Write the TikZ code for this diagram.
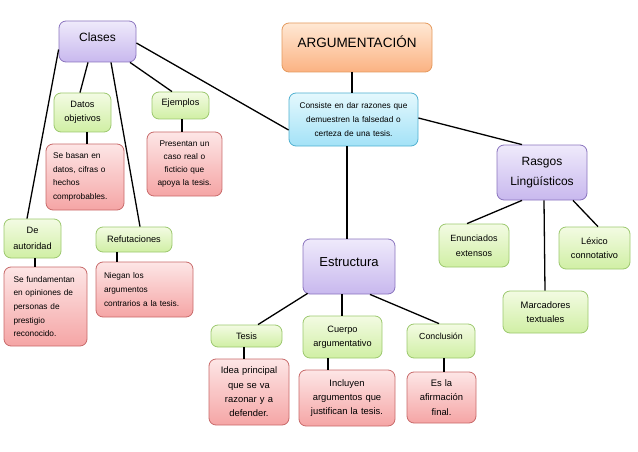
\documentclass[tikz,border=0pt]{standalone}
\usepackage{fontspec}
\setmainfont{Liberation Sans}
\definecolor{purpT}{HTML}{EFEAFB}
\definecolor{purpB}{HTML}{C8B8EE}
\definecolor{purpD}{HTML}{8A74BE}
\definecolor{oranT}{HTML}{FFE8D4}
\definecolor{oranB}{HTML}{FBB282}
\definecolor{oranD}{HTML}{E49A5E}
\definecolor{cyanT}{HTML}{E4F8FD}
\definecolor{cyanB}{HTML}{A3E2F7}
\definecolor{cyanD}{HTML}{4FB0D0}
\definecolor{grnT}{HTML}{F3FBE3}
\definecolor{grnB}{HTML}{D0EFA4}
\definecolor{grnD}{HTML}{9CC86E}
\definecolor{redT}{HTML}{FDE6E6}
\definecolor{redB}{HTML}{F5A5A5}
\definecolor{redD}{HTML}{C86A6A}
\begin{document}
\begin{tikzpicture}[x=1pt,y=-1pt,
  box/.style={draw, rounded corners=7pt, line width=0.8pt, inner sep=0pt, align=center},
  purp/.style={box, draw=purpD, top color=purpT, bottom color=purpB},
  oran/.style={box, draw=oranD, top color=oranT, bottom color=oranB},
  cyan/.style={box, draw=cyanD, top color=cyanT, bottom color=cyanB},
  grn/.style={box, draw=grnD, top color=grnT, bottom color=grnB},
  red/.style={box, draw=redD, top color=redT, bottom color=redB},
  wh/.style 2 args={minimum width=#1, minimum height=#2},
  big/.style={font=\fontsize{12}{20}\selectfont},
  mid/.style={font=\fontsize{9.2}{14.5}\selectfont},
  midr/.style={font=\fontsize{9.4}{14.4}\selectfont},
  sml/.style={font=\fontsize{8.3}{13.7}\selectfont},
  con/.style={line width=1.3pt, black}]
\useasboundingbox (0,0) rectangle (638,452);

% nodes
\node[purp, wh={77}{41}, big, text height=9pt, text depth=9pt] (clases) at (97.5,41.5) {Clases};
\node[oran, wh={150}{49}, font=\fontsize{13.5}{16}\selectfont, text height=10pt, text depth=9pt] (arg) at (357,47.5) {ARGUMENTACIÓN};
\node[cyan, wh={129}{53}, sml, text width=125pt] (cons) at (353.5,119.5) {Consiste en dar razones que\\demuestren la falsedad o\\certeza de una tesis.};
\node[purp, wh={90}{55}, big, text width=86pt] (rasgos) at (542,172.5) {Rasgos\\Lingüísticos};

\node[grn, wh={57}{39}, mid, text width=55pt] (datos) at (82.5,112.5) {Datos\\objetivos};
\node[red, wh={78}{66}, sml, text width=64pt, align=left] (sebasan) at (85,177) {Se basan en\\datos, cifras o\\hechos\\comprobables.};
\node[grn, wh={57}{27}, mid, text height=6.5pt, text depth=6.5pt] (ejemplos) at (180.5,105.5) {Ejemplos};
\node[red, wh={75}{64}, font=\fontsize{8.3}{12.8}\selectfont, text width=72pt] (presentan) at (184.5,164) {Presentan un\\caso real o\\ficticio que\\apoya la tesis.};
\node[grn, wh={57}{39}, font=\fontsize{9.2}{16}\selectfont, text width=55pt] (deaut) at (32.5,238.5) {De\\autoridad};
\node[red, wh={83}{79}, sml, text width=64pt, align=left] (sefund) at (45.5,306.5) {Se fundamentan\\en opiniones de\\personas de\\prestigio\\reconocido.};
\node[grn, wh={76}{25}, mid] (refut) at (134,239.5) {Refutaciones};
\node[red, wh={97}{55}, sml, text width=81pt, align=left] (niegan) at (144.5,289.5) {Niegan los\\argumentos\\contrarios a la tesis.};

\node[purp, wh={92}{55}, font=\fontsize{13}{16}\selectfont, text height=9.5pt, text depth=9.5pt] (estr) at (349,266.5) {Estructura};
\node[grn, wh={71}{22}, mid] (tesis) at (246.5,336) {Tesis};
\node[red, wh={80}{66}, midr, text width=78pt] (idea) at (249,392) {Idea principal\\que se va\\razonar y a\\defender.};
\node[grn, wh={79}{42}, mid, text width=77pt] (cuerpo) at (342.5,337) {Cuerpo\\argumentativo};
\node[red, wh={96}{56}, midr, text width=94pt] (incl) at (347,398) {Incluyen\\argumentos que\\justifican la tesis.};
\node[grn, wh={68}{34}, font=\fontsize{8.8}{14}\selectfont, text height=6pt, text depth=9.5pt] (concl) at (441,341) {Conclusión};
\node[red, wh={69}{51}, midr, text width=67pt] (esla) at (441.5,397.5) {Es la\\afirmación\\final.};

\node[grn, wh={70}{43}, font=\fontsize{9}{15}\selectfont, text width=68pt] (enun) at (474,245.5) {Enunciados\\extensos};
\node[grn, wh={71}{42}, mid, text width=69pt] (lexico) at (594.5,248) {Léxico\\connotativo};
\node[grn, wh={85}{42}, font=\fontsize{9.4}{14}\selectfont, text width=83pt] (marc) at (545.5,312) {Marcadores\\textuales};

% connectors
\draw[con] ([xshift=-9.5pt]clases.south) -- ([xshift=-2.5pt]datos.north);
\draw[con] ([xshift=13.5pt]clases.south) -- ([xshift=6pt]refut.north);
\draw[con] ([xshift=32.5pt]clases.south) -- ([xshift=-8.5pt]ejemplos.north);
\draw[con] ([yshift=-1.5pt]clases.east) -- ([yshift=-10.5pt]cons.west);
\draw[con] ([yshift=-8pt]clases.west) -- ([xshift=-5.5pt]deaut.north);
\draw[con] ([xshift=4.5pt]datos.south) -- ([xshift=2pt]sebasan.north);
\draw[con] ([xshift=1.5pt]ejemplos.south) -- ([xshift=-2.5pt]presentan.north);
\draw[con] ([xshift=2.5pt]deaut.south) -- ([xshift=-10.5pt]sefund.north);
\draw[con] ([xshift=-17pt]refut.south) -- ([xshift=-27.5pt]niegan.north);
\draw[con] ([xshift=-5pt]arg.south) -- ([xshift=-1.5pt]cons.north);
\draw[con] ([xshift=-6.5pt]cons.south) -- ([xshift=-2pt]estr.north);
\draw[con] ([yshift=1.5pt]cons.east) -- ([xshift=-20pt]rasgos.north);
\draw[con] ([xshift=-20pt]rasgos.south) -- ([xshift=-7pt]enun.north);
\draw[con] ([xshift=2pt]rasgos.south) -- ([xshift=-0.5pt]marc.north);
\draw[con] ([xshift=31pt]rasgos.south) -- ([xshift=3.5pt]lexico.north);
\draw[con] ([xshift=5pt,yshift=1pt]estr.south west) -- ([xshift=11.5pt]tesis.north);
\draw[con] ([xshift=-7pt]estr.south) -- ([xshift=-0.5pt]cuerpo.north);
\draw[con] ([xshift=21pt]estr.south) -- ([xshift=-2pt]concl.north);
\draw[con] ([xshift=-2.5pt]tesis.south) -- ([xshift=-5pt]idea.north);
\draw[con] ([xshift=-14.5pt]cuerpo.south) -- ([xshift=-19pt]incl.north);
\draw[con] ([xshift=3pt]concl.south) -- ([xshift=2.5pt]esla.north);
\end{tikzpicture}
\end{document}
